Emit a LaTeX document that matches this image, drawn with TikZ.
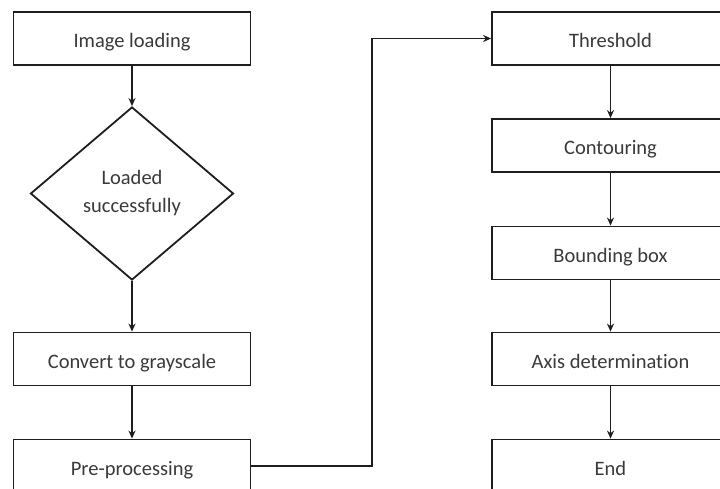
\documentclass[tikz,border=0pt]{standalone}
\usepackage{fontspec}
\setmainfont{Carlito}[Ligatures=NoCommon]
\usetikzlibrary{shapes.geometric,arrows.meta}
\definecolor{linegray}{HTML}{1E1E1E}
\definecolor{textgray}{HTML}{3A3A3A}
\tikzset{
  stepbox/.style={draw=linegray,line width=1.8pt,rectangle,minimum width=237pt,minimum height=53pt,inner sep=0pt,text height=19pt,text depth=1pt,text=textgray,font=\fontsize{20.5}{28}\selectfont},
  decision/.style={draw=linegray,line width=1.8pt,diamond,minimum width=203pt,minimum height=173pt,inner sep=0pt,text=textgray,align=center,font=\fontsize{20.5}{28}\selectfont},
  flow/.style={->,draw=linegray,line width=1.8pt,>={Stealth[length=8pt,width=7pt]}}
}
\begin{document}
\begin{tikzpicture}[x=1pt,y=-1pt]
\useasboundingbox (0,0) rectangle (720,489);
\fill[white] (0,0) rectangle (720,489);
% left column
\node[stepbox] (load) at (132,38.5) {Image loading};
\node[decision] (check) at (132,193.5) {Loaded\\successfully};
\node[stepbox] (gray) at (132,359) {Convert to grayscale};
\node[stepbox] (pre) at (132,466) {Pre-processing};
% right column
\node[stepbox] (thr) at (610.5,38.5) {Threshold};
\node[stepbox] (cont) at (610.5,145.5) {Contouring};
\node[stepbox] (bbox) at (610.5,253) {Bounding box};
\node[stepbox] (axis) at (610.5,359) {Axis determination};
\node[stepbox] (end) at (610.5,466) {End};
\coordinate (turn) at (372,466);
% connectors
\draw[flow] (load) -- (check);
\draw[flow] (check) -- (gray);
\draw[flow] (gray) -- (pre);
\draw[flow] (pre.east) -- (turn) |- (thr.west);
\draw[flow] (thr) -- (cont);
\draw[flow] (cont) -- (bbox);
\draw[flow] (bbox) -- (axis);
\draw[flow] (axis) -- (end);
\end{tikzpicture}
\end{document}
